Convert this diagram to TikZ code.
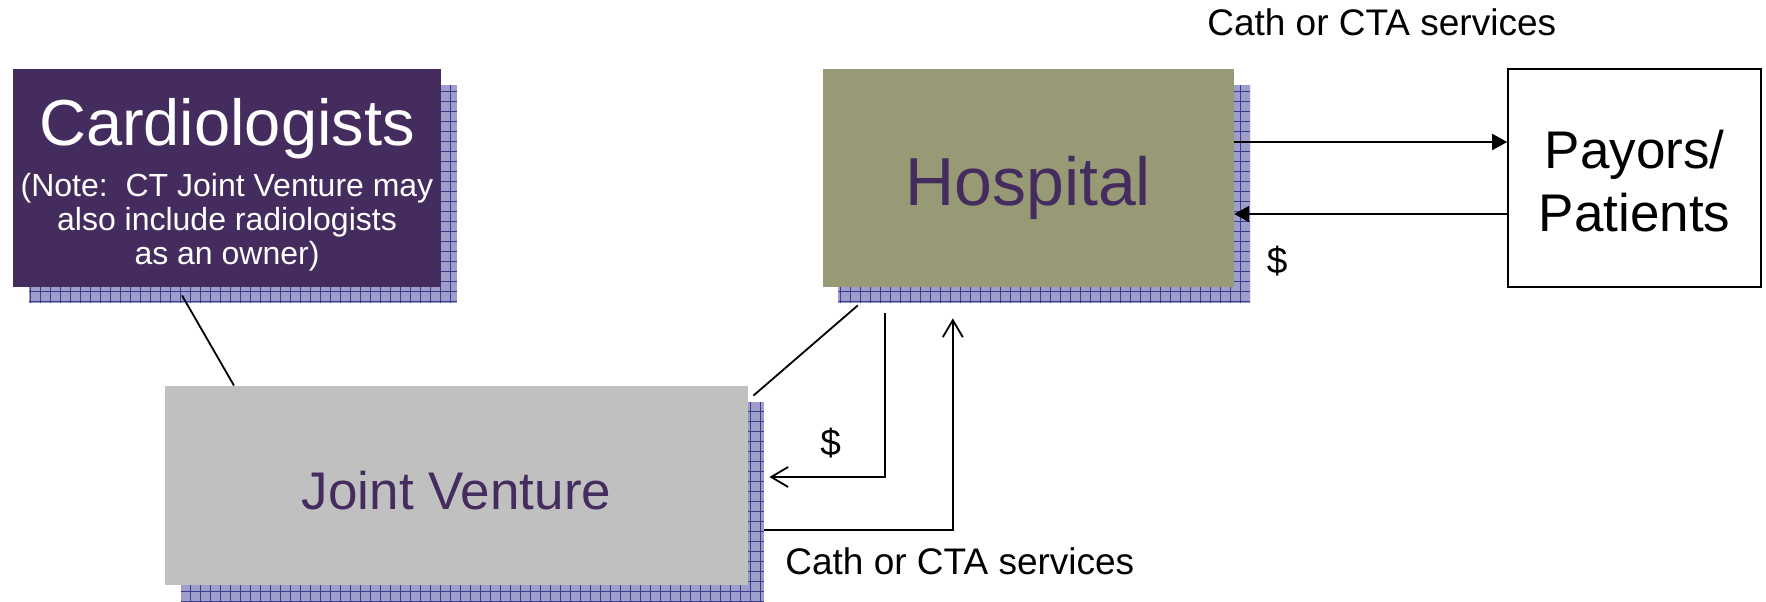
\documentclass[tikz,border=0pt]{standalone}
\usepackage{fontspec}
\setmainfont{Liberation Sans}
\usetikzlibrary{positioning, arrows.meta, calc, backgrounds}

\definecolor{ownerpurple}{RGB}{68,45,94}
\definecolor{hospolive}{RGB}{152,154,118}
\definecolor{venturegray}{RGB}{192,192,192}
\definecolor{shadowfill}{RGB}{158,158,205}
\definecolor{shadowline}{RGB}{60,60,140}

\begin{document}
\begin{tikzpicture}[
    flow/.style={
        -{Triangle[length=7.5pt, width=8pt]},
        line width=1pt
    },
    money/.style={
        -{Straight Barb[length=8.5pt, width=10pt]},
        line width=0.9pt
    },
    link/.style={
        line width=0.9pt
    },
    party/.style={
        rectangle,
        inner sep=0pt,
        minimum height=109pt,
        align=center
    },
    owner/.style={
        party,
        fill=ownerpurple,
        text=white,
        minimum width=214pt,
        font=\fontsize{16}{17}\selectfont
    },
    provider/.style={
        party,
        fill=hospolive,
        text=ownerpurple,
        minimum width=205.5pt,
        text height=27pt,
        text depth=0pt,
        font=\fontsize{34}{40}\selectfont
    },
    payer/.style={
        party,
        draw,
        line width=0.8pt,
        fill=white,
        minimum width=126.5pt,
        font=\fontsize{26.5}{31.5}\selectfont
    },
    venture/.style={
        party,
        fill=venturegray,
        text=ownerpurple,
        minimum width=291.5pt,
        minimum height=99.5pt,
        text height=23.5pt,
        text depth=0pt,
        font=\fontsize{26.5}{32}\selectfont
    },
    boxshadow/.style={
        fill=shadowfill,
        path picture={
            \draw[shadowline, line width=0.35pt]
                (path picture bounding box.south west) grid[step=5pt]
                (path picture bounding box.north east);
        }
    },
    lbl/.style={
        inner sep=0pt,
        font=\fontsize{18.5}{22}\selectfont
    }
]

    \useasboundingbox (0,0) rectangle (883pt,300.5pt);

    % Parties
    \node[owner] (cardio) at (113.5pt,211.5pt)
        {\rule{0pt}{30.5pt}{\fontsize{32.5}{39}\selectfont Cardiologists}\\[6pt]
         (Note:\ \ CT Joint Venture may\\
         also include radiologists\\
         as an owner)};
    \node[provider, right=190.5pt of cardio] (hosp) {Hospital};
    \node[payer, right=136.5pt of hosp] (payor) {\rule{0pt}{22.7pt}Payors/\\Patients};
    \node[venture] (jv) at (228.25pt,57.75pt) {Joint Venture};

    % Hatched shadows
    \begin{scope}[on background layer]
        \foreach \b in {cardio, hosp, jv}
            \path[boxshadow] ($(\b.south west)+(8pt,-8pt)$) rectangle ($(\b.north east)+(8pt,-8pt)$);
    \end{scope}

    % Ownership links
    \draw[link] ([shift={(-22.5pt,-4pt)}]cardio.south) -- ([xshift=-111.25pt]jv.north);
    \draw[link] ([shift={(-85.25pt,-9pt)}]hosp.south) -- ([shift={(2.5pt,-5pt)}]jv.north east);

    % Hospital <-> payors
    \draw[flow] ([yshift=18pt]hosp.east) --
        node[lbl, above=52.5pt, xshift=5.5pt] (svctop) {Cath or CTA services}
        ([yshift=18pt]payor.west);
    \draw[flow] ([yshift=-18pt]payor.west) --
        node[lbl, pos=0.8425, anchor=base, yshift=-29.5pt] (paytop) {\$}
        ([yshift=-18pt]hosp.east);

    % Hospital <-> joint venture
    \draw[money] ([shift={(-71.75pt,-13pt)}]hosp.south) |-
        node[lbl, pos=0.735, anchor=base, yshift=11pt] (paylow) {\$}
        ([shift={(10.5pt,4.25pt)}]jv.east);
    \draw[money] ([shift={(8pt,-22.25pt)}]jv.east) -|
        node[lbl, pos=0.5, anchor=base, xshift=3.5pt, yshift=-22pt] (svclow) {Cath or CTA services}
        ([shift={(-37.75pt,-15.5pt)}]hosp.south);

\end{tikzpicture}
\end{document}
